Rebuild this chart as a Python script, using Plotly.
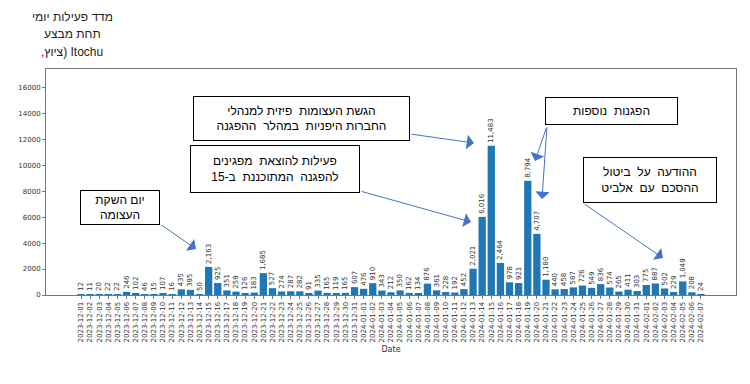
import plotly.graph_objects as go
import datetime as dt

start = dt.date(2023, 12, 1)
dates = [(start + dt.timedelta(days=i)).isoformat() for i in range(69)]

values = [
    12, 11, 20, 22, 22, 246, 102, 46, 15, 107, 16, 435, 395, 50, 2163, 925, 351,
    259, 126, 183, 1685, 527, 274, 287, 282, 91, 335, 165, 119, 165, 607,
    476, 910, 343, 212, 350, 162, 134, 876, 361, 228, 192, 452, 2021, 6016, 11483,
    2464, 978, 921, 8794, 4707, 1180, 440, 458, 587, 726, 549, 836, 574, 265, 411, 303,
    775, 887, 502, 229, 1049, 208, 24,
]

y_ticks = [0, 2000, 4000, 6000, 8000, 10000, 12000, 14000, 16000]

title_lines = ["מדד פעילות יומי", "תחת מבצע", "\u202bItochu (ציוץ,\u202c"]

box_texts = [
    "יום השקת<br>העצומה",
    "הגשת העצומות  פיזית למנהלי<br>החברות היפניות  במהלר  ההפגנה",
    "פעילות להוצאת  מפגינים<br>להפגנה  המתוכננת  ב-15",
    "הפגנות  נוספות",
    "ההודעה  על  ביטול<br>ההסכם  עם  אלביט",
]

# page has an 8px body margin: screen coords -> figure coords
OFF = 8
W, H = 750, 384
L = 46 - OFF
T = 69 - OFF
R = W - (736 - OFF)
B = H - (295 - OFF)
PW, PH = W - L - R, H - T - B


def px(x):
    return (x - OFF - L) / PW


def py(y):
    return (H - B - (y - OFF)) / PH


fig = go.Figure()
fig.add_trace(go.Bar(
    x=dates, y=values, width=0.8,
    marker=dict(color="#1f77b4", line=dict(width=0)),
    text=[f"{v:,}" for v in values],
    textposition="outside", textangle=-90, constraintext="none",
    textfont=dict(family="DejaVu Sans", size=7, color="#333"),
    cliponaxis=False,
))

ann = []
for i, t in enumerate(title_lines):
    ann.append(dict(text=t, xref="paper", yref="paper", x=px(72), y=py(17 + i * 17.5),
                    xanchor="center", yanchor="middle", showarrow=False,
                    font=dict(family="Liberation Sans", size=12, color="#222")))

boxes = [(120, 207, 80, 35), (301, 118, 217, 45), (275, 169, 170, 48),
         (611, 111, 133, 28), (650, 180, 134, 46)]
for (cx, cy, bw, bh), t in zip(boxes, box_texts):
    ann.append(dict(text=t, xref="paper", yref="paper", x=px(cx), y=py(cy),
                    xanchor="center", yanchor="middle", showarrow=False,
                    width=bw - 2, height=bh - 2, borderpad=0, borderwidth=1,
                    bordercolor="#000", bgcolor="#fff", align="center",
                    font=dict(family="Liberation Sans", size=12, color="#000")))

arrows = [(160, 224, 196, 249), (410, 134, 474, 143), (360, 191, 471, 222),
          (547, 126, 535, 161), (547, 126, 542, 199), (583, 203, 663, 258)]
for tx, ty, hx, hy in arrows:
    ann.append(dict(text="", xref="paper", yref="paper", x=px(hx), y=py(hy),
                    ax=tx - hx, ay=ty - hy, axref="pixel", ayref="pixel",
                    showarrow=True, arrowhead=1, arrowsize=2.4, arrowwidth=1,
                    arrowcolor="#4472C4", standoff=0))

fig.update_layout(
    width=W, height=H,
    margin=dict(l=L, r=R, t=T, b=B, autoexpand=False),
    plot_bgcolor="#fff", paper_bgcolor="#fff",
    showlegend=False,
    annotations=ann,
    xaxis=dict(type="category", range=[-3.84, 71.84], tickangle=-90, automargin=False,
               tickfont=dict(family="DejaVu Sans", size=7, color="#333"),
               showline=True, mirror=True, linecolor="#777", linewidth=1,
               ticks="outside", ticklen=3, tickcolor="#777", showgrid=False,
               title=dict(text="Date", font=dict(family="DejaVu Sans", size=8, color="#333"),
                          standoff=4)),
    yaxis=dict(range=[0, 17400], tickvals=y_ticks, ticktext=[str(v) for v in y_ticks],
               automargin=False,
               tickfont=dict(family="DejaVu Sans", size=7, color="#333"),
               showline=True, mirror=True, linecolor="#777", linewidth=1,
               ticks="outside", ticklen=3, tickcolor="#777", showgrid=False,
               zeroline=False),
)

fig.write_html("out.html")
